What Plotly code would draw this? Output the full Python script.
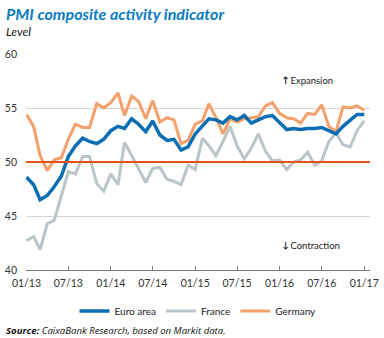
import plotly.graph_objects as go
import pandas as pd

dates = pd.date_range("2013-01-01", "2017-01-01", freq="MS")

euro_area = [48.6, 47.9, 46.5, 46.9, 47.7, 48.7, 50.5, 51.5, 52.2, 51.9, 51.7, 52.1,
             52.9, 53.3, 53.1, 54.0, 53.5, 52.8, 53.8, 52.5, 52.0, 52.1, 51.1, 51.4,
             52.6, 53.3, 54.0, 53.9, 53.6, 54.2, 53.9, 54.3, 53.6, 53.9, 54.2, 54.3,
             53.6, 53.0, 53.1, 53.0, 53.1, 53.1, 53.2, 52.9, 52.6, 53.3, 53.9, 54.4,
             54.4]
france = [42.7, 43.1, 41.9, 44.3, 44.6, 47.0, 49.1, 48.9, 50.5, 50.5, 48.0, 47.3,
          48.9, 47.9, 51.8, 50.6, 49.3, 48.1, 49.4, 49.5, 48.4, 48.2, 47.9, 49.7,
          49.3, 52.2, 51.5, 50.6, 51.9, 53.3, 51.5, 50.3, 51.3, 52.6, 51.0, 50.1,
          50.2, 49.3, 50.0, 50.2, 50.9, 49.7, 50.1, 51.9, 52.7, 51.6, 51.4, 52.9,
          53.8]
germany = [54.4, 53.3, 50.6, 49.2, 50.2, 50.4, 52.1, 53.5, 53.2, 53.2, 55.4, 55.0,
           55.5, 56.4, 54.3, 56.1, 55.6, 54.0, 55.7, 53.7, 54.1, 53.9, 51.7, 52.0,
           53.5, 53.8, 55.4, 54.1, 52.6, 54.0, 53.7, 54.0, 54.1, 54.2, 55.2, 55.5,
           54.5, 54.1, 54.0, 53.6, 54.5, 54.4, 55.3, 53.3, 52.8, 55.1, 55.0, 55.2,
           54.8]

tick_vals = pd.date_range("2013-01-01", "2017-01-01", freq="6MS")
tick_text = [d.strftime("%m/%y") for d in tick_vals]
y_ticks = [40, 45, 50, 55, 60]
threshold = 50

FONT = "Lato"
BLUE = "#0b6db3"
GRAY = "#b9c5c9"
ORANGE = "#f59f6a"
RED = "#e3511d"

fig = go.Figure()
fig.add_trace(go.Scatter(x=dates, y=france, name="France", mode="lines",
                         line=dict(color=GRAY, width=3), legendrank=2))
fig.add_trace(go.Scatter(x=dates, y=germany, name="Germany", mode="lines",
                         line=dict(color=ORANGE, width=3), legendrank=3))
fig.add_trace(go.Scatter(x=dates, y=euro_area, name="Euro area", mode="lines",
                         line=dict(color=BLUE, width=3.5), legendrank=1))

fig.add_hline(y=threshold, line=dict(color=RED, width=2))

fig.update_layout(
    width=384, height=338,
    margin=dict(l=26, r=14, t=54, b=66),
    paper_bgcolor="white", plot_bgcolor="white",
    font=dict(family=FONT, size=10, color="#333333"),
    showlegend=True,
    legend=dict(orientation="h", x=0.5, xanchor="center", y=-0.19, yanchor="middle",
                font=dict(size=10, color="#222222"), itemwidth=30,
                traceorder="normal", tracegroupgap=0),
    xaxis=dict(
        range=["2012-12-30", "2017-01-26"],
        tickvals=tick_vals, ticktext=tick_text,
        showgrid=False, zeroline=False,
        showline=True, linecolor="#777777", linewidth=1,
        ticks="inside", ticklen=4, tickcolor="#777777",
        tickfont=dict(size=10.5, color="#333333"),
        ticklabelstandoff=3,
        automargin=False,
    ),
    yaxis=dict(
        range=[40, 60], tickvals=y_ticks,
        showgrid=True, gridcolor="#d4d4d4", gridwidth=1,
        zeroline=False, showline=False, ticks="",
        tickfont=dict(size=10.5, color="#333333"),
        ticklabelstandoff=8,
        automargin=False,
    ),
)

fig.add_annotation(xref="paper", yref="paper", x=-0.063, y=1.188, xanchor="left",
                   yanchor="middle", showarrow=False,
                   text="<b><i>PMI composite activity indicator</i></b>",
                   font=dict(family=FONT, size=16, color="#0a7bc2"))
fig.add_annotation(xref="paper", yref="paper", x=-0.063, y=1.106, xanchor="left",
                   yanchor="middle", showarrow=False, text="<i>Level</i>",
                   font=dict(family=FONT, size=12, color="#111111"))
fig.add_annotation(xref="paper", yref="paper", x=0.742, y=0.876, xanchor="left",
                   yanchor="middle", showarrow=False, text="<b>🡑</b> Expansion",
                   font=dict(family=FONT, size=9.5, color="#222222"))
fig.add_annotation(xref="paper", yref="paper", x=0.742, y=0.115, xanchor="left",
                   yanchor="middle", showarrow=False, text="<b>🡓</b> Contraction",
                   font=dict(family=FONT, size=9.5, color="#222222"))
fig.add_annotation(xref="paper", yref="paper", x=-0.063, y=-0.278, xanchor="left",
                   yanchor="middle", showarrow=False,
                   text="<b><i>Source:</i></b><i> CaixaBank Research, based on Markit data.</i>",
                   font=dict(family="Open Sans", size=9.6, color="#111111"))

fig.write_html("out.html")
